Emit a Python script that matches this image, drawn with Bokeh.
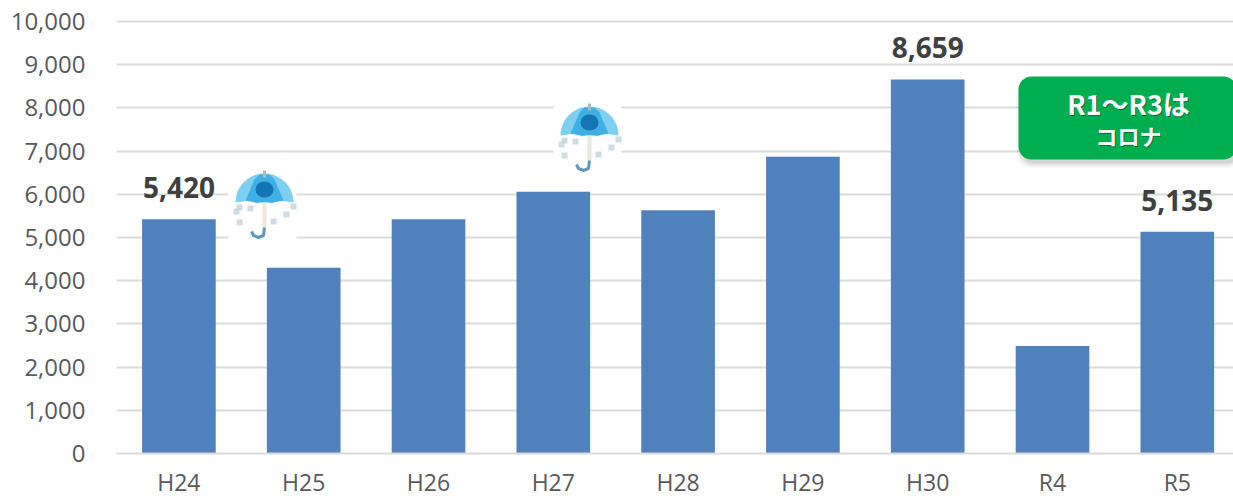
import numpy as np
from bokeh.core.properties import value
from bokeh.embed import file_html
from bokeh.models import FixedTicker, NumeralTickFormatter, Range1d
from bokeh.plotting import figure
from bokeh.resources import INLINE

categories = ["H24", "H25", "H26", "H27", "H28", "H29", "H30", "R4", "R5"]
visitors = [5420, 4300, 5420, 6060, 5630, 6870, 8659, 2490, 5135]
labelled = {0: "5,420", 6: "8,659", 8: "5,135"}
note_lines = ["R1～R3は", "コロナ"]

W, H = 1233, 496
LEFT, BOTTOM = 116, 453
STEP = 124.8
PX_PER_UNIT = 432 / 10000
HEADROOM = 2  # pixels above the 10,000 line so that it is not dropped at the range end
TOP = 21 - HEADROOM

p = figure(
    width=W, height=H, output_backend="svg", toolbar_location=None,
    frame_width=W - LEFT, frame_height=BOTTOM - TOP,
    x_range=Range1d(-0.5, -0.5 + (W - LEFT) / STEP),
    y_range=Range1d(0, (BOTTOM - TOP) / PX_PER_UNIT),
    min_border_left=LEFT, min_border_right=0, min_border_top=TOP,
    min_border_bottom=H - BOTTOM,
)
p.outline_line_color = None
p.background_fill_color = "white"
p.border_fill_color = "white"


# Annotation helpers work in page pixels and convert to the chart's axes.
def dx(px):
    return (np.asarray(px, dtype=float) - LEFT) / STEP - 0.5


def dy(py):
    return (BOTTOM - np.asarray(py, dtype=float)) / PX_PER_UNIT


p.xgrid.visible = False
p.ygrid.ticker = FixedTicker(ticks=list(range(0, 10001, 1000)))
p.ygrid.grid_line_color = "#dcdcdc"
p.ygrid.grid_line_width = 2

p.xaxis.ticker = FixedTicker(ticks=list(range(len(categories))))
p.xaxis.major_label_overrides = {i: c for i, c in enumerate(categories)}
p.yaxis.ticker = FixedTicker(ticks=list(range(0, 10001, 1000)))
p.yaxis.formatter = NumeralTickFormatter(format="0,0")
for ax in (p.xaxis[0], p.yaxis[0]):
    ax.major_tick_line_color = None
    ax.minor_tick_line_color = None
    ax.major_label_text_font = "Open Sans"
    ax.major_label_text_color = "#595959"
p.yaxis.axis_line_color = None
p.xaxis.axis_line_color = "#dcdcdc"
p.xaxis.axis_line_width = 2
p.yaxis.major_label_text_font_size = "24px"
p.xaxis.major_label_text_font_size = "23px"
p.yaxis.major_label_standoff = 25
p.xaxis.major_label_standoff = 6

xs = list(range(len(categories)))
p.vbar(x=xs, top=visitors, bottom=0, width=0.59, fill_color="#4f81bd", line_color=None)

p.text(
    x=list(labelled), y=[visitors[i] for i in labelled], text=list(labelled.values()),
    text_font=value("Open Sans"), text_font_style="bold", text_font_size="28px",
    text_color="#404040", text_align="center", text_baseline="bottom", y_offset=-21,
)


def umbrella(cx, cy):
    p.quad(left=dx(cx - 36), right=dx(cx + 32), top=dy(cy - 35), bottom=dy(cy + 35),
           fill_color="white", line_color=None)
    # canopy, drawn as a half ellipse with a scalloped lower edge
    t = np.linspace(np.pi, 0, 30)
    arc_x = cx + 29 * np.cos(t)
    arc_y = cy - 3 - 29 * np.sin(t)
    low_x = np.array([cx + 29, cx + 14, cx + 7, cx, cx - 7, cx - 14, cx - 29])
    low_y = np.array([cy - 3, cy - 5, cy - 2, cy - 5, cy - 2, cy - 5, cy - 3])
    p.patch(dx(np.r_[arc_x, low_x]), dy(np.r_[arc_y, low_y]),
            fill_color="#7fd0f0", line_color=None)
    p.patch(dx(np.r_[cx - 19, cx - 10, cx - 5, cx + 5, cx + 10, cx + 19, cx + 9, cx - 9]),
            dy(np.r_[cy - 5, cy - 26, cy - 31, cy - 31, cy - 26, cy - 5, cy - 3, cy - 3]),
            fill_color="#3fb0e4", line_color=None)
    p.ellipse(dx([cx]), dy([cy - 16]), width=18 / STEP, height=16 / PX_PER_UNIT,
              fill_color="#1474b4", line_color=None)
    # shaft and hook
    p.line(dx([cx, cx]), dy([cy - 35, cy - 28]), line_color="#a9bcc7", line_width=3)
    p.line(dx([cx, cx]), dy([cy - 3, cy + 22]), line_color="#ece8e0", line_width=4)
    p.line(dx([cx, cx - 1, cx - 6, cx - 11, cx - 13]),
           dy([cy + 22, cy + 30, cy + 32, cy + 30, cy + 26]),
           line_color="#4d8fb0", line_width=3, line_alpha=0.9)
    # raindrops and ribs
    drop_x = cx + np.array([-25, -25, -14, 9, 22, -28, 29])
    drop_y = cy + np.array([2, 17, 3, 16, 9, 6, 1])
    p.scatter(dx(drop_x), dy(drop_y), size=6, marker="square",
              fill_color="#c3d3da", fill_alpha=0.8, line_color=None)


umbrella(264, 205)
umbrella(589, 138)

# Rounded note box with its soft drop shadow
for grow, alpha in ((6, 0.05), (4, 0.08), (2, 0.1)):
    p.quad(left=dx([1018 - grow + 4]), right=dx([1240]), top=dy([80 - grow + 4]),
           bottom=dy([159 + grow + 2]), fill_color="#404040", fill_alpha=alpha,
           line_color=None, border_radius=14)
p.quad(left=dx([1018]), right=dx([1236]), top=dy([76]), bottom=dy([159]),
       fill_color="#00ae50", line_color=None, border_radius=13)
for line, py, size in zip(note_lines, (103, 134), ("27px", "22px")):
    p.text(x=dx([1128]) + 1 / STEP, y=dy([py + 1]), text=[line], text_color="#0b6e37",
           text_font=value("Noto Sans CJK JP"), text_font_style="bold",
           text_font_size=size, text_align="center", text_baseline="middle")
    p.text(x=dx([1128]), y=dy([py]), text=[line], text_color="white",
           text_font=value("Noto Sans CJK JP"), text_font_style="bold",
           text_font_size=size, text_align="center", text_baseline="middle")

open("out.html", "w").write(file_html(p, INLINE))
